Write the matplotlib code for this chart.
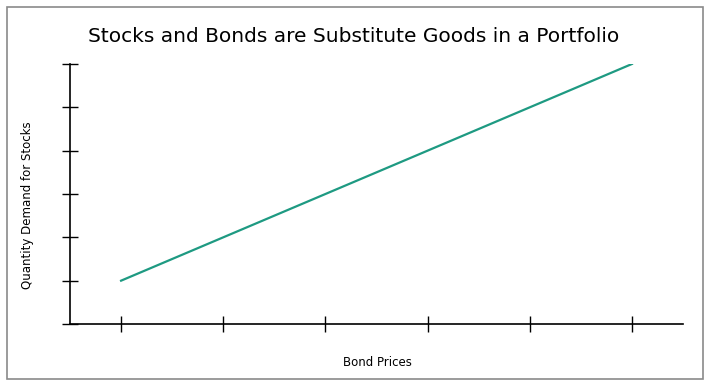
import matplotlib.pyplot as plt
from matplotlib.patches import Rectangle

# data
bond_prices = [1, 2, 3, 4, 5, 6]
stock_demand = [1, 2, 3, 4, 5, 6]
x_ticks = [1, 2, 3, 4, 5, 6]
y_ticks = [0, 1, 2, 3, 4, 5, 6]

W, H = 715, 387
fig = plt.figure(figsize=(W / 100, H / 100), dpi=100)
ax = fig.add_axes([70 / W, 63 / H, (683 - 70) / W, (324 - 64) / H])

ax.plot(bond_prices, stock_demand, color='#1e9a82', linewidth=1.6)

ax.set_xlim(0.5, 6.5)
ax.set_ylim(0, 6)
ax.set_xticks(x_ticks)
ax.set_yticks(y_ticks)
ax.set_xticklabels([])
ax.set_yticklabels([])
ax.tick_params(axis='both', direction='inout', length=12, width=1.0, color='black')
ax.spines['top'].set_visible(False)
ax.spines['right'].set_visible(False)
for s in ['left', 'bottom']:
    ax.spines[s].set_linewidth(1.2)

fig.text(354 / W, 1 - 36 / H, 'Stocks and Bonds are Substitute Goods in a Portfolio',
         ha='center', va='center', fontsize=14.5, family='DejaVu Sans')
fig.text(377 / W, 1 - 362 / H, 'Bond Prices', ha='center', va='center', fontsize=8.5)
fig.text(28 / W, 1 - 205 / H, 'Quantity Demand for Stocks', ha='center', va='center',
         rotation=90, fontsize=8.5)

fig.patches.append(Rectangle((7 / W, 1 - 379 / H), (703 - 7) / W, (379 - 7) / H,
                             transform=fig.transFigure, fill=False,
                             edgecolor='#8a8a8a', linewidth=1.2))

fig.savefig('out.png', dpi=100)
